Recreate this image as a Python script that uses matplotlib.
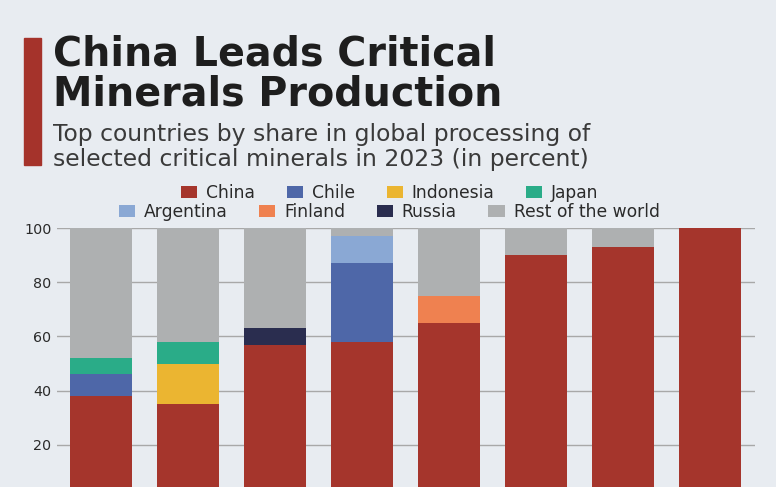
import numpy as np
import matplotlib.pyplot as plt
from matplotlib.patches import Rectangle

# share in global processing (percent), one value per bar
china = [38, 35, 57, 58, 65, 90, 93, 100]
chile = [8, 0, 0, 29, 0, 0, 0, 0]
indonesia = [0, 15, 0, 0, 0, 0, 0, 0]
japan = [6, 8, 0, 0, 0, 0, 0, 0]
argentina = [0, 0, 0, 10, 0, 0, 0, 0]
finland = [0, 0, 0, 0, 10, 0, 0, 0]
russia = [0, 0, 6, 0, 0, 0, 0, 0]
rest = [48, 42, 37, 3, 25, 10, 7, 0]

series = [
    ('China', china, '#a5352c'),
    ('Chile', chile, '#4e67a8'),
    ('Indonesia', indonesia, '#ebb531'),
    ('Japan', japan, '#2aac88'),
    ('Argentina', argentina, '#8aa8d4'),
    ('Finland', finland, '#ef8150'),
    ('Russia', russia, '#2a2d4f'),
    ('Rest of the world', rest, '#aeb0b1'),
]

bg = '#e8ecf1'
plt.rcParams['font.family'] = ['DejaVu Sans']

W, H = 776, 487
fig = plt.figure(figsize=(W / 100, H / 100), dpi=100, facecolor=bg)

# axes: x from 57 to 755 px, y=100 at 228 px, y=0 at 499 px (below the edge)
ax = fig.add_axes([57 / W, (H - 499) / H, (755 - 57) / W, (499 - 228) / H])
ax.set_facecolor(bg)

x = np.arange(len(china))
bottom = np.zeros(len(china))
handles = []
for name, vals, col in series:
    b = ax.bar(x, vals, width=0.72, bottom=bottom, color=col, label=name, zorder=3)
    handles.append(b)
    bottom += np.array(vals)

ax.set_xlim(-0.506, 7.517)
ax.set_ylim(0, 100)
ax.set_yticks([20, 40, 60, 80, 100])
ax.tick_params(axis='y', length=0, pad=4, labelsize=10.3, labelcolor='#2a2a2a')
ax.set_xticks([])
ax.grid(axis='y', color='#a8a8a8', linewidth=1, zorder=0)
for s in ax.spines.values():
    s.set_visible(False)

# title block
fig.add_artist(Rectangle((24 / W, 1 - 165 / H), 17 / W, 127 / H,
                         transform=fig.transFigure, color='#a5332b'))
fig.text(53 / W, 1 - 65 / H, 'China Leads Critical', fontsize=28.5,
         fontweight='bold', color='#1e1e1e', va='baseline')
fig.text(53 / W, 1 - 105 / H, 'Minerals Production', fontsize=28.5,
         fontweight='bold', color='#1e1e1e', va='baseline')
fig.text(53 / W, 1 - 141 / H, 'Top countries by share in global processing of',
         fontsize=16.9, color='#3a3a3a', va='baseline')
fig.text(53 / W, 1 - 166 / H, 'selected critical minerals in 2023 (in percent)',
         fontsize=16.9, color='#3a3a3a', va='baseline')

# legend in two centred rows
leg_kw = dict(loc='center', ncol=4, frameon=False, fontsize=12.3,
              handlelength=0.94, handleheight=0.76, handletextpad=0.53,
              columnspacing=1.85, labelcolor='#2a2a2a', borderpad=0)
leg1 = fig.legend(handles=handles[:4], bbox_to_anchor=(390 / W, 1 - 193 / H), **leg_kw)
leg2 = fig.legend(handles=handles[4:], bbox_to_anchor=(389 / W, 1 - 212 / H), **leg_kw)

fig.savefig('out.png', dpi=100, facecolor=bg)
